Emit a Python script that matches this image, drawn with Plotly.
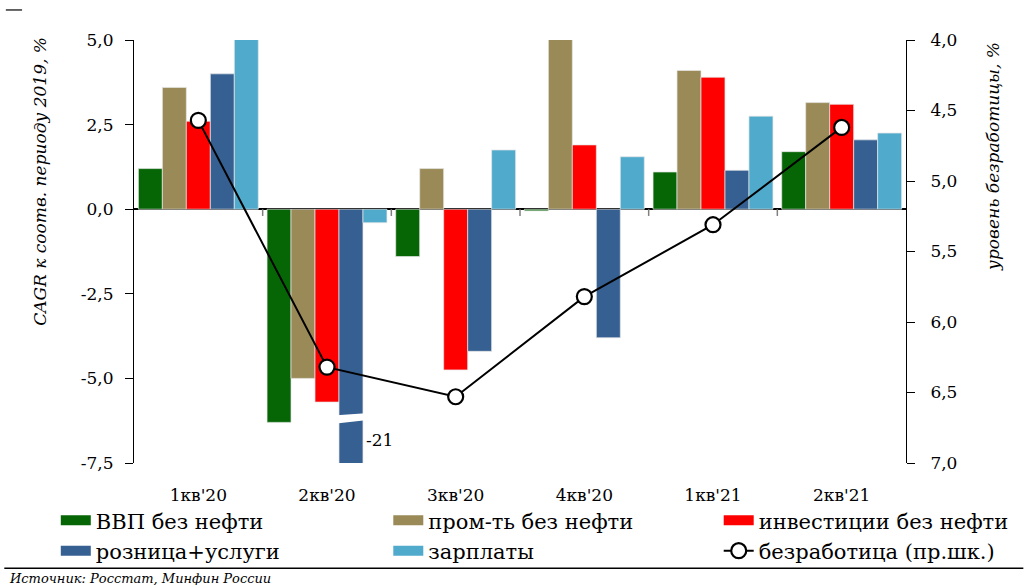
import plotly.graph_objects as go

categories = ["1кв'20", "2кв'20", "3кв'20", "4кв'20", "1кв'21", "2кв'21"]
gdp_ex_oil = [1.2, -6.3, -1.4, -0.05, 1.1, 1.7]
industry_ex_oil = [3.6, -5.0, 1.2, 5.4, 4.1, 3.15]
investment_ex_oil = [2.6, -5.7, -4.75, 1.9, 3.9, 3.1]
retail_services = [4.0, -21.0, -4.2, -3.8, 1.15, 2.05]
wages = [5.3, -0.4, 1.75, 1.55, 2.75, 2.25]
unemployment = [4.57, 6.32, 6.53, 5.82, 5.31, 4.62]

left_ticks = [-7.5, -5.0, -2.5, 0.0, 2.5, 5.0]
left_ticktext = ["-7,5", "-5,0", "-2,5", "0,0", "2,5", "5,0"]
right_ticks = [4.0, 4.5, 5.0, 5.5, 6.0, 6.5, 7.0]
right_ticktext = ["4,0", "4,5", "5,0", "5,5", "6,0", "6,5", "7,0"]

series = [
    ("ВВП без нефти", gdp_ex_oil, "#066606", "legend"),
    ("пром-ть без нефти", industry_ex_oil, "#998A57", "legend2"),
    ("инвестиции без нефти", investment_ex_oil, "#FF0000", "legend3"),
    ("розница+услуги", retail_services, "#366092", "legend"),
    ("зарплаты", wages, "#4FAACC", "legend2"),
]

FONT = "DejaVu Serif"
x_idx = list(range(len(categories)))
BARGAP = 0.068
bw = (1 - BARGAP) / len(series)

fig = go.Figure()
for name, vals, color, lg in series:
    fig.add_trace(go.Bar(
        x=x_idx, y=vals, name=name, marker_color=color,
        marker_line=dict(width=0.8, color="rgba(230,230,230,0.9)"),
        showlegend=False, yaxis="y",
    ))
# legend swatches
for name, vals, color, lg in series:
    fig.add_trace(go.Scatter(
        x=[None], y=[None], mode="lines", name=name,
        line=dict(color=color, width=12), legend=lg, showlegend=True,
    ))

fig.add_trace(go.Scatter(
    x=x_idx, y=unemployment, name="безработица (пр.шк.)", yaxis="y2",
    mode="lines+markers", line=dict(color="black", width=2),
    marker=dict(symbol="circle", size=15, color="white", line=dict(color="black", width=2.2)),
    legend="legend3",
))

# boundary ticks below zero line
shapes = []
for i in range(len(categories) - 1):
    shapes.append(dict(type="line", xref="x", yref="y", x0=i + 0.5, x1=i + 0.5,
                       y0=0, y1=-0.2, line=dict(color="#808080", width=1.5)))

# break on the clipped bar (retail in 2кв'20)
bi = 1
bx0 = bi + bw - bw / 2 - 0.02
bx1 = bi + bw + bw / 2 + 0.02
shapes.append(dict(type="path", xref="x", yref="y",
                   path=f"M{bx0},-6.09 L{bx1},-6.03 L{bx1},-6.24 L{bx0},-6.33 Z",
                   fillcolor="white", line=dict(width=0)))
# decorative lines
shapes.append(dict(type="line", xref="paper", yref="paper", x0=-0.166, x1=-0.145,
                   y0=1.071, y1=1.071, line=dict(color="black", width=1.2)))
shapes.append(dict(type="line", xref="paper", yref="paper", x0=-0.168, x1=1.152,
                   y0=-0.249, y1=-0.249, line=dict(color="black", width=1.5)))

annotations = [
    dict(x=bi + bw * 1.5 + 0.01, y=-6.83, xref="x", yref="y", text="-21", showarrow=False,
         xanchor="left", yanchor="middle", font=dict(family=FONT, size=17, color="black")),
    dict(x=-0.122, y=1.013, xref="paper", yref="paper", text="CAGR к соотв. периоду 2019, %",
         textangle=-90, showarrow=False, xanchor="center", yanchor="top",
         font=dict(family=FONT, size=17, color="black", style="italic")),
    dict(x=1.112, y=1.0, xref="paper", yref="paper", text="уровень безработицы, %",
         textangle=-90, showarrow=False, xanchor="center", yanchor="top",
         font=dict(family=FONT, size=17, color="black", style="italic")),
    dict(x=-0.164, y=-0.272, xref="paper", yref="paper", text="Источник: Росстат, Минфин России",
         showarrow=False, xanchor="left", yanchor="middle",
         font=dict(family=FONT, size=13, color="black", style="italic")),
]

leg_common = dict(orientation="v", yanchor="top", xanchor="left", y=-0.088,
                  font=dict(family=FONT, size=21, color="black"),
                  bgcolor="rgba(0,0,0,0)", tracegroupgap=0)

fig.update_layout(
    width=1028, height=585,
    margin=dict(l=134, r=122, t=40, b=122, autoexpand=False),
    paper_bgcolor="white", plot_bgcolor="white",
    barmode="group", bargap=BARGAP, bargroupgap=0,
    font=dict(family=FONT, size=17, color="black"),
    xaxis=dict(range=[-0.5, 5.5], tickvals=x_idx, ticktext=categories, showgrid=False,
               zeroline=False, showline=False, ticks="", ticklabelstandoff=20,
               tickfont=dict(family=FONT, size=17)),
    yaxis=dict(range=[-7.5, 5.0], tickvals=left_ticks, ticktext=left_ticktext,
               showgrid=False, zeroline=True, zerolinecolor="black", zerolinewidth=1.5,
               showline=True, linecolor="black", linewidth=1, ticks="outside",
               ticklen=8, tickcolor="black", ticklabelstandoff=8,
               tickfont=dict(family=FONT, size=17)),
    yaxis2=dict(range=[7.0, 4.0], tickvals=right_ticks, ticktext=right_ticktext,
                overlaying="y", side="right", showgrid=False, zeroline=False,
                showline=True, linecolor="black", linewidth=1, ticks="outside",
                ticklen=8, tickcolor="black", ticklabelstandoff=12,
                tickfont=dict(family=FONT, size=17)),
    legend=dict(x=-0.1013, **leg_common),
    legend2=dict(x=0.3294, **leg_common),
    legend3=dict(x=0.7574, **leg_common),
    shapes=shapes,
    annotations=annotations,
)

fig.write_html("out.html", config={"displayModeBar": False},
               post_script="document.body.style.margin='0';document.body.style.overflow='hidden';")
